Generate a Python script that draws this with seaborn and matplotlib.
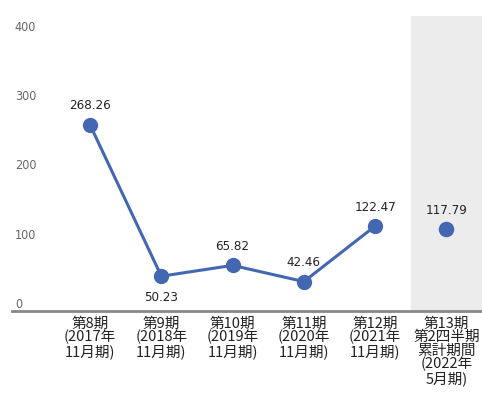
import matplotlib
matplotlib.use("Agg")
import matplotlib.pyplot as plt
import seaborn as sns
import pandas as pd

categories = ["第8期\n(2017年\n11月期)", "第9期\n(2018年\n11月期)", "第10期\n(2019年\n11月期)",
              "第11期\n(2020年\n11月期)", "第12期\n(2021年\n11月期)",
              "第13期\n第2四半期\n累計期間\n(2022年\n5月期)"]
values = [268.26, 50.23, 65.82, 42.46, 122.47, 117.79]
value_labels = ["268.26", "50.23", "65.82", "42.46", "122.47", "117.79"]
label_below = [False, True, False, False, False, False]
y_ticks = [0, 100, 200, 300, 400]

sns.set_theme(style="white")
plt.rcParams['font.family'] = ['Noto Sans CJK JP', 'DejaVu Sans']

num_font = dict(family=['DejaVu Sans'], stretch='condensed')
color = "#4467b1"
fig = plt.figure(figsize=(4.82, 4.05), dpi=100)
ax = fig.add_axes([0.025, 0.232, 0.975, 0.728])

df = pd.DataFrame({"x": list(range(len(values))), "y": values})
sns.lineplot(data=df.iloc[:5], x="x", y="y", ax=ax, color=color, linewidth=2.2,
             marker="o", markersize=11, markeredgewidth=0)
sns.scatterplot(data=df.iloc[5:], x="x", y="y", ax=ax, color=color, s=125, linewidth=0)

ax.axvspan(4.5, 5.6, color="#ececec", zorder=0)

ax.set_xlim(-1.095, 5.5)
ax.set_ylim(0, 425)

for i, (v, lab, below) in enumerate(zip(values, value_labels, label_below)):
    if below:
        ax.annotate(lab, (i, v), xytext=(0, -11), textcoords="offset points",
                    ha="center", va="top", fontsize=9.5, color="#222222", **num_font)
    else:
        ax.annotate(lab, (i, v), xytext=(0, 9), textcoords="offset points",
                    ha="center", va="bottom", fontsize=9.5, color="#222222", **num_font)

ax.set_yticks(y_ticks)
ax.set_yticklabels([str(t) for t in y_ticks], ha="left", va="bottom",
                   fontsize=9, color="#666666", **num_font)
ax.tick_params(axis="y", length=0, pad=-2)

ax.set_xticks(range(len(categories)))
ax.set_xticklabels(categories, fontsize=10.5, color="#222222", linespacing=0.95)
ax.tick_params(axis="x", length=0, pad=4)

ax.set_xlabel("")
ax.set_ylabel("")
for s in ["top", "right", "left"]:
    ax.spines[s].set_visible(False)
ax.spines["bottom"].set_color("#888888")
ax.spines["bottom"].set_linewidth(2)

fig.savefig("out.png", dpi=100)
